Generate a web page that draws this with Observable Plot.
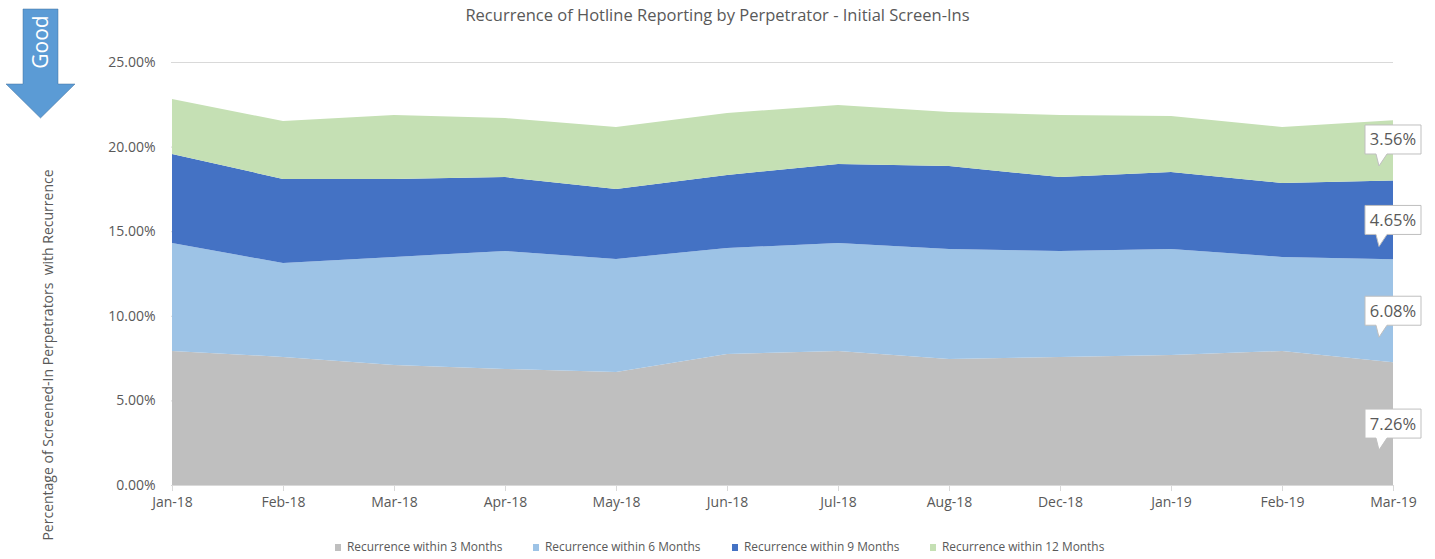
<!DOCTYPE html>
<html>
<head>
<meta charset="utf-8">
<script src="https://cdn.jsdelivr.net/npm/d3@7"></script>
<script src="https://cdn.jsdelivr.net/npm/@observablehq/plot@0.6"></script>
<style>
  html, body { margin: 0; padding: 0; background: #fff; }
  #wrap { position: relative; width: 1435px; height: 559px; font-family: "Open Sans", Lato, sans-serif; color: #595959; overflow: hidden; }
  #chart { position: absolute; left: 0; top: 0; }
  #title { position: absolute; left: 0; width: 1435px; top: 3px; text-align: center; font-size: 16.5px; }
  #ylabel { position: absolute; left: 47px; top: 355px; transform: translate(-50%, -50%) rotate(-90deg); white-space: pre; font-size: 14px; }
  #legend { position: absolute; top: 538px; left: 0; width: 1435px; height: 16px; font-size: 11.9px; }
  .li { position: absolute; top: 0; white-space: nowrap; }
  .sw { display: inline-block; width: 6px; height: 7px; margin-right: 6px; }
  #good { position: absolute; left: 0; top: 0; }
</style>
</head>
<body>
<div id="wrap">
  <div id="chart"></div>
  <div id="title">Recurrence of Hotline Reporting by Perpetrator - Initial Screen-Ins</div>
  <div id="ylabel">Percentage of Screened-In Perpetrators  with Recurrence</div>
  <svg id="good" width="90" height="125"></svg>
  <div id="legend"></div>
</div>
<script>
// ---- data ----
const months = ["Jan-18","Feb-18","Mar-18","Apr-18","May-18","Jun-18","Jul-18","Aug-18","Dec-18","Jan-19","Feb-19","Mar-19"];
const seriesNames = ["Recurrence within 3 Months","Recurrence within 6 Months","Recurrence within 9 Months","Recurrence within 12 Months"];
const within3  = [7.92, 7.57, 7.09, 6.86, 6.68, 7.74, 7.92, 7.45, 7.57, 7.68, 7.92, 7.26];
const within6  = [6.38, 5.55, 6.39, 6.97, 6.68, 6.27, 6.38, 6.50, 6.26, 6.27, 5.56, 6.08];
const within9  = [5.26, 4.97, 4.61, 4.37, 4.13, 4.31, 4.67, 4.90, 4.37, 4.55, 4.37, 4.65];
const within12 = [3.25, 3.42, 3.78, 3.49, 3.67, 3.67, 3.49, 3.19, 3.67, 3.31, 3.31, 3.56];
const yTicks = [0, 5, 10, 15, 20, 25];
const seriesColors = ["#bfbfbf", "#9dc3e6", "#4472c4", "#c5e0b4"];

const seriesValues = [within3, within6, within9, within12];
const data = [];
seriesNames.forEach((s, i) => months.forEach((m, j) => data.push({series: s, month: m, value: seriesValues[i][j]})));

const W = 1435, H = 559;
const plot = Plot.plot({
  width: W,
  height: H,
  marginLeft: 171,
  marginRight: 42,
  marginTop: 62,
  marginBottom: 74,
  style: {fontFamily: "'Open Sans', Lato, sans-serif", fontSize: "14px", color: "#595959", background: "white"},
  x: {type: "point", domain: months, padding: 0},
  y: {domain: [0, 25]},
  color: {domain: seriesNames, range: seriesColors},
  marks: [
    Plot.gridY(yTicks, {stroke: "#d9d9d9", strokeOpacity: 1, strokeWidth: 1}),
    Plot.areaY(data, {x: "month", y: "value", fill: "series", z: "series", order: seriesNames}),
    Plot.ruleY([0], {stroke: "#d9d9d9", strokeWidth: 1.2}),
    Plot.axisX({tickSize: 6, tickPadding: 6, stroke: "#d9d9d9", fill: "#595959", fontSize: 14, label: null}),
    Plot.axisY(yTicks, {tickSize: 0, tickPadding: 16, fill: "#595959", fontSize: 14, label: null, tickFormat: d => d.toFixed(2) + "%"})
  ]
});
document.getElementById("chart").appendChild(plot);

// ---- data callouts at the last month, positioned through the plot's scales ----
const sx = plot.scale("x"), sy = plot.scale("y");
const svg = d3.select(plot);
const last = months.length - 1;
let cum = 0;
const g = svg.append("g");
seriesValues.forEach((vals, i) => {
  const v = vals[last];
  const mid = cum + v / 2;
  cum += v;
  const cx = sx.apply(months[last]);
  let cy = sy.apply(mid);
  if (i === seriesValues.length - 1) cy -= 11;
  const bw = 56, bh = 29;
  const x0 = cx - bw / 2, y0 = cy - bh / 2, x1 = cx + bw / 2, y1 = cy + bh / 2;
  const p = `M${x0},${y0}H${x1}V${y1}H${x0 + 22}L${x0 + 14},${y1 + 12}L${x0 + 11},${y1}H${x0}Z`;
  g.append("path").attr("d", p).attr("fill", "white").attr("stroke", "#bfbfbf").attr("stroke-width", 1);
  g.append("text").attr("x", cx).attr("y", cy).attr("dy", "0.36em").attr("text-anchor", "middle")
    .attr("fill", "#595959").attr("font-size", 16.5).text(v.toFixed(2) + "%");
});

// ---- legend ----
const legend = document.getElementById("legend");
const legendX = [335, 533, 732, 930];
seriesNames.forEach((s, i) => {
  const d = document.createElement("div");
  d.className = "li";
  d.style.left = legendX[i] + "px";
  d.innerHTML = `<span class="sw" style="background:${seriesColors[i]}"></span>${s}`;
  legend.appendChild(d);
});

// ---- "Good" arrow ----
const gs = d3.select("#good");
gs.append("path").attr("d", "M23,9H58V84H75L40.5,118L6,84H23Z").attr("fill", "#5b9bd5").attr("stroke", "#41719c").attr("stroke-width", 0.5);
gs.append("text").attr("transform", "translate(48,42) rotate(-90)").attr("text-anchor", "middle")
  .attr("fill", "white").attr("font-size", 21).attr("font-family", "'Open Sans', Lato, sans-serif").text("Good");
</script>
</body>
</html>
